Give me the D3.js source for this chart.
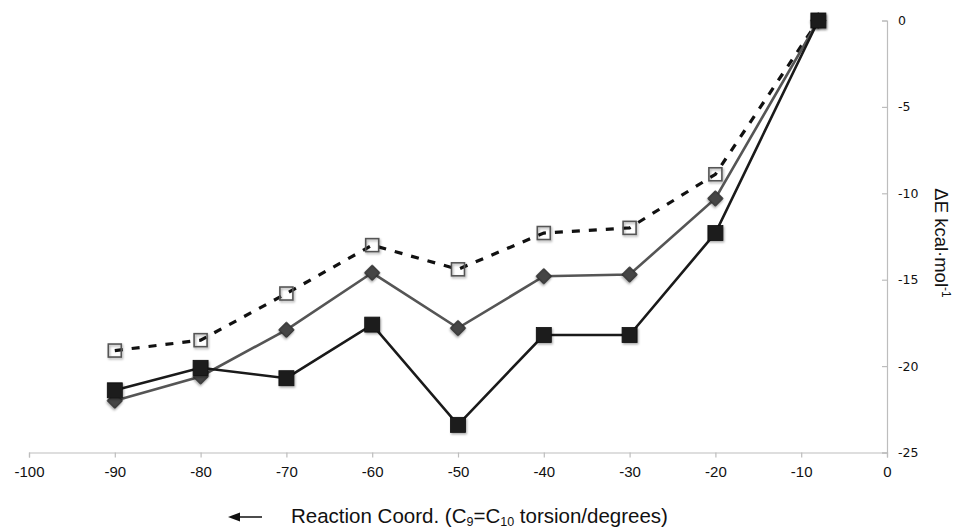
<!DOCTYPE html>
<html>
<head>
<meta charset="utf-8">
<script src="https://cdn.jsdelivr.net/npm/d3@7"></script>
<style>
  html, body { margin: 0; padding: 0; background: #fff; }
  svg { display: block; }
</style>
</head>
<body>
<svg id="chart" width="961" height="531"></svg>
<script>
// ---- data ----
const torsion = [-90, -80, -70, -60, -50, -40, -30, -20, -8];
const seriesSquares = [-21.4, -20.1, -20.7, -17.6, -23.4, -18.2, -18.2, -12.3, 0];
const seriesDiamonds = [-22.0, -20.6, -17.9, -14.6, -17.8, -14.8, -14.7, -10.3, 0];
const seriesOpen = [-19.1, -18.5, -15.8, -13.0, -14.4, -12.3, -12.0, -8.9, 0];
const xTicks = [-100, -90, -80, -70, -60, -50, -40, -30, -20, -10, 0];
const yTicks = [0, -5, -10, -15, -20, -25];

const svg = d3.select("#chart");
const x = d3.scaleLinear().domain([-100, 0]).range([29, 887]);
const y = d3.scaleLinear().domain([-25, 0]).range([452.5, 20.5]);

// shadow filter
const defs = svg.append("defs");
const f = defs.append("filter").attr("id", "sh").attr("x", "-50%").attr("y", "-50%").attr("width", "200%").attr("height", "200%");
f.append("feDropShadow").attr("dx", 1).attr("dy", 1.5).attr("stdDeviation", 1.2)
  .attr("flood-color", "#000").attr("flood-opacity", 0.35);

const fmt = d => String(d);

// axes
const xAxis = d3.axisBottom(x).tickValues(xTicks).tickSize(5).tickFormat(fmt);
const gx = svg.append("g").attr("transform", `translate(0,${y(-25)})`).call(xAxis);
gx.select(".domain").attr("stroke", "#bdbdbd").attr("stroke-width", 1.2);
gx.selectAll(".tick line").attr("stroke", "#bdbdbd").attr("stroke-width", 1.2);
gx.selectAll(".tick text").attr("font-family", "'Liberation Sans', Arial, sans-serif")
  .attr("font-size", 15).attr("fill", "#111").attr("dy", "0.95em").attr("y", 10);

const yAxis = d3.axisLeft(y).tickValues(yTicks).tickSize(5).tickFormat(fmt);
const gy = svg.append("g").attr("transform", `translate(${x(0)},0)`).call(yAxis);
gy.select(".domain").attr("stroke", "#bdbdbd").attr("stroke-width", 1.2);
gy.selectAll(".tick line").attr("stroke", "#bdbdbd").attr("stroke-width", 1.2);
gy.selectAll(".tick text").attr("font-family", "'DejaVu Sans', Verdana, sans-serif")
  .attr("font-size", 12.5).attr("fill", "#111").attr("text-anchor", "start").attr("x", 11);

const line = d3.line().x((d, i) => x(torsion[i])).y(d => y(d));

// dashed series with open squares
svg.append("path").datum(seriesOpen).attr("d", line).attr("fill", "none")
  .attr("stroke", "#111").attr("stroke-width", 3.2).attr("stroke-dasharray", "8,9");
svg.append("g").selectAll("rect").data(seriesOpen).join("rect")
  .attr("x", (d, i) => x(torsion[i]) - 6.5).attr("y", d => y(d) - 6.5)
  .attr("width", 13).attr("height", 13).attr("fill", "none")
  .attr("stroke", "#555").attr("stroke-width", 1.6).attr("filter", "url(#sh)");

// diamond series
svg.append("path").datum(seriesDiamonds).attr("d", line).attr("fill", "none")
  .attr("stroke", "#555").attr("stroke-width", 2.6);
svg.append("g").selectAll("path").data(seriesDiamonds).join("path")
  .attr("d", d3.symbol().type(d3.symbolSquare).size(115))
  .attr("transform", (d, i) => `translate(${x(torsion[i])},${y(d)}) rotate(45)`)
  .attr("fill", "#454545").attr("stroke", "#2a2a2a").attr("stroke-width", 1)
  .attr("filter", "url(#sh)");

// filled square series
svg.append("path").datum(seriesSquares).attr("d", line).attr("fill", "none")
  .attr("stroke", "#1a1a1a").attr("stroke-width", 2.6);
svg.append("g").selectAll("rect").data(seriesSquares).join("rect")
  .attr("x", (d, i) => x(torsion[i]) - 7.5).attr("y", d => y(d) - 7.5)
  .attr("width", 15).attr("height", 15).attr("fill", "#1c1c1c")
  .attr("stroke", "#111").attr("stroke-width", 0.8).attr("filter", "url(#sh)");

// y axis title
const yt = svg.append("text")
  .attr("transform", `translate(935,${243}) rotate(90)`)
  .attr("text-anchor", "middle")
  .attr("font-family", "'Liberation Sans', Arial, sans-serif")
  .attr("font-size", 18.5).attr("fill", "#111");
yt.append("tspan").text("ΔE kcal·mol");
yt.append("tspan").attr("font-size", 12).attr("dy", -7).text("-1");

// x axis title with arrow
svg.append("line").attr("x1", 233).attr("x2", 262).attr("y1", 517).attr("y2", 517)
  .attr("stroke", "#111").attr("stroke-width", 1.5);
svg.append("path").attr("d", "M228,517 L240,512.5 L240,521.5 Z").attr("fill", "#111");
const xt = svg.append("text").attr("x", 291).attr("y", 523)
  .attr("font-family", "'Liberation Sans', Arial, sans-serif")
  .attr("font-size", 20.5).attr("fill", "#111");
xt.append("tspan").text("Reaction Coord. (C");
xt.append("tspan").attr("font-size", 12.5).attr("dy", 3).text("9");
xt.append("tspan").attr("dy", -3).text("=C");
xt.append("tspan").attr("font-size", 12.5).attr("dy", 3).text("10");
xt.append("tspan").attr("dy", -3).text(" torsion/degrees)");
</script>
</body>
</html>
